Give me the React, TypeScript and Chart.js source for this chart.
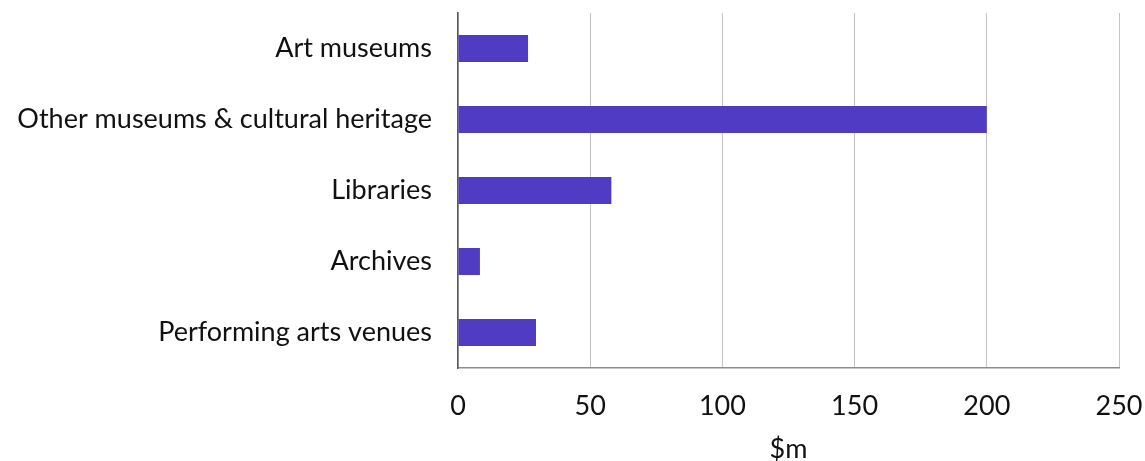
import React, { useEffect, useRef } from "react";
import { Chart, registerables } from "chart.js";

Chart.register(...registerables);

const categories = [
  "Art museums",
  "Other museums & cultural heritage",
  "Libraries",
  "Archives",
  "Performing arts venues",
];
const values = [26.5, 200, 58, 8.3, 29.5];
const xTitle = "$m";

export default function App() {
  const ref = useRef<HTMLCanvasElement | null>(null);
  useEffect(() => {
    if (!ref.current) return;
    const font = { family: "Lato, 'Open Sans', sans-serif", size: 27 };
    const chart = new Chart(ref.current, {
      type: "bar",
      data: {
        labels: categories,
        datasets: [
          {
            data: values,
            backgroundColor: "#503CC2",
            borderWidth: 0,
            categoryPercentage: 1,
            barPercentage: 0.38,
          },
        ],
      },
      options: {
        indexAxis: "y",
        animation: false,
        responsive: false,
        maintainAspectRatio: false,
        layout: { padding: { top: 13, right: 26, left: 0, bottom: 0 } },
        plugins: { legend: { display: false }, tooltip: { enabled: false } },
        scales: {
          x: {
            min: 0,
            max: 250,
            ticks: { stepSize: 50, color: "#111", font, padding: 22, maxRotation: 0 },
            grid: {
              color: "#c4c4c4",
              lineWidth: 1,
              drawTicks: false,
              borderDash: [3, 1],
            } as any,
            border: { display: true, color: "#8c8c8c", width: 1.5, dash: [] },
            title: {
              display: true,
              text: xTitle,
              color: "#111",
              font,
              padding: { top: 4, bottom: -4 },
            },
            afterFit: (s: any) => {
              s.height = 93;
              s.paddingLeft = 0;
              s.paddingRight = 0;
            },
          },
          y: {
            ticks: { color: "#111", font, padding: 26 },
            grid: { display: false, drawTicks: false },
            border: { display: true, color: "#595959", width: 1.5 },
            afterFit: (s: any) => {
              s.width = 458;
              s.paddingTop = 0;
              s.paddingBottom = 0;
            },
          },
        },
      },
    });
    return () => chart.destroy();
  }, []);
  return (
    <div style={{ position: "fixed", left: 0, top: 0, width: 1145, height: 461, background: "#fff" }}>
      <canvas ref={ref} width={1145} height={461} style={{ width: 1145, height: 461 }} />
    </div>
  );
}
